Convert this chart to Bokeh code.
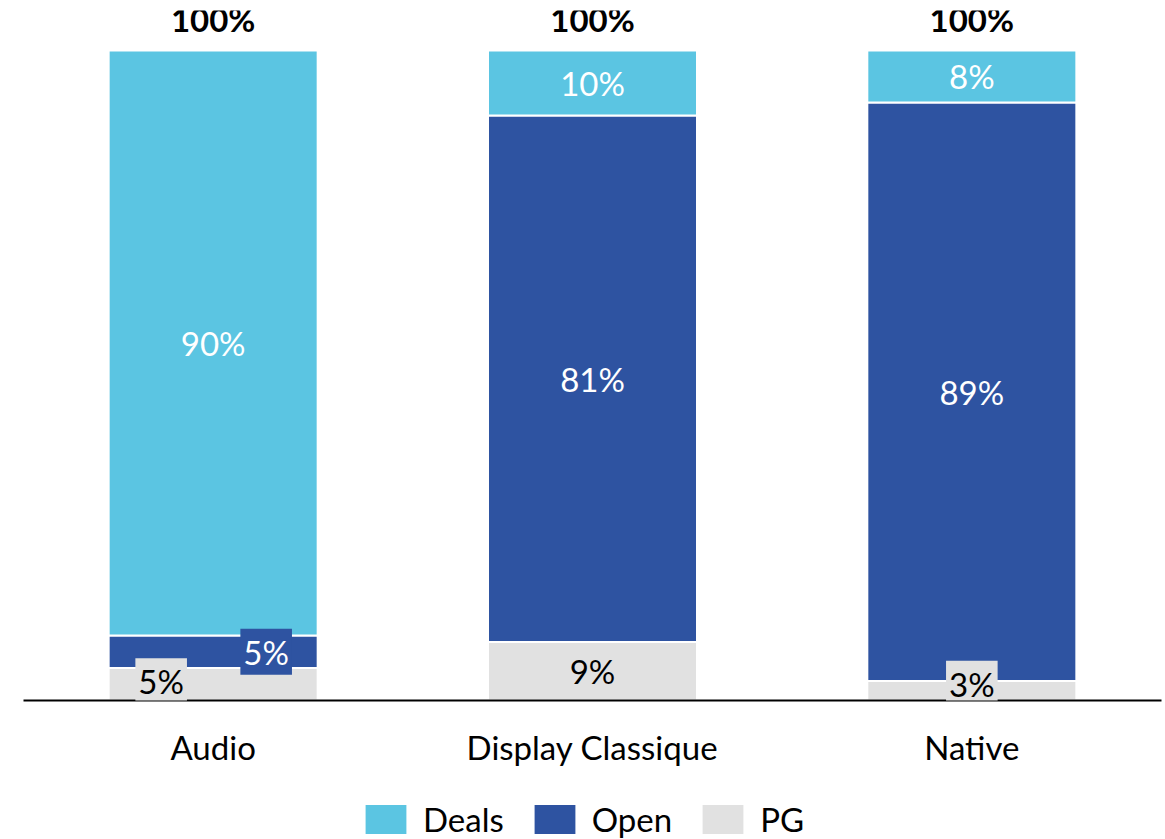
from bokeh.plotting import figure
from bokeh.layouts import column
from bokeh.models import ColumnDataSource, Range1d, LabelSet, Label, Legend, LegendItem, FixedTicker
from bokeh.core.properties import value
from bokeh.embed import file_html
from bokeh.resources import INLINE

# Share of each buying mode per format (%)
categories = ["Audio", "Display Classique", "Native"]
pg = [5, 9, 3]
open_ = [5, 81, 89]
deals = [90, 10, 8]
totals = [100, 100, 100]

series = ["PG", "Open", "Deals"]
colors = {"Deals": "#5BC5E2", "Open": "#2E53A1", "PG": "#E1E1E1"}

FONT = "Lato"
FS = "33px"
W = 1165

xpos = list(range(len(categories)))
source = ColumnDataSource(dict(x=xpos, PG=pg, Open=open_, Deals=deals))

p = figure(
    x_range=Range1d(-0.5, len(categories) - 0.5),
    y_range=Range1d(0, 106.15),
    width=W, height=770,
    output_backend="svg", toolbar_location=None,
    min_border_left=23, min_border_right=4, min_border_top=10, min_border_bottom=70,
)
p.outline_line_color = None
p.xgrid.visible = False
p.ygrid.visible = False
p.yaxis.visible = False
p.background_fill_color = "white"
p.border_fill_color = "white"

p.vbar_stack(
    series, x="x", width=0.551, source=source,
    color=[colors[s] for s in series], line_color="white", line_width=2,
)

# x axis: plain black baseline with category names
xa = p.xaxis[0]
xa.ticker = FixedTicker(ticks=xpos)
xa.major_label_overrides = {i: c for i, c in zip(xpos, categories)}
xa.axis_line_color = "black"
xa.axis_line_width = 2
xa.major_tick_line_color = None
xa.minor_tick_line_color = None
xa.major_tick_out = 0
xa.major_label_standoff = 26
xa.major_label_text_font = FONT
xa.major_label_text_font_size = FS
xa.major_label_text_color = "black"

# small segments get a boxed label, nudged so it stays readable
small_offsets = {("Audio", "PG"): (-52, 3), ("Audio", "Open"): (53, 0), ("Native", "PG"): (0, 7)}

big = dict(x=[], y=[], text=[], color=[])
small = []
for i, c in enumerate(categories):
    base = 0
    for s, vals in (("PG", pg), ("Open", open_), ("Deals", deals)):
        v = vals[i]
        mid = base + v / 2
        col = "black" if s == "PG" else "white"
        if (c, s) in small_offsets:
            dx, dy = small_offsets[(c, s)]
            small.append((i, mid, f"{v}%", col, colors[s], dx, dy))
        else:
            big["x"].append(i)
            big["y"].append(mid)
            big["text"].append(f"{v}%")
            big["color"].append(col)
        base += v

p.add_layout(LabelSet(
    x="x", y="y", text="text", source=ColumnDataSource(big),
    text_color="color", text_font=value(FONT), text_font_size=value(FS),
    text_align="center", text_baseline="middle",
))

for i, mid, txt, col, bg, dx, dy in small:
    p.add_layout(Label(
        x=i, y=mid, text=txt, x_offset=dx, y_offset=dy,
        text_color=col, text_font=FONT, text_font_size=FS,
        text_align="center", text_baseline="middle",
        background_fill_color=bg, padding=3,
    ))

# totals above each bar
p.add_layout(LabelSet(
    x="x", y="total", text="label",
    source=ColumnDataSource(dict(x=xpos, total=totals, label=[f"{t}%" for t in totals])),
    y_offset=11, text_color="black", text_font=value(FONT), text_font_size=value(FS),
    text_font_style="bold", text_align="center", text_baseline="bottom",
))

# legend strip underneath the chart; its swatch renderers have zero height
leg = figure(
    x_range=Range1d(0, 1), y_range=Range1d(0, 1),
    width=W, height=69, output_backend="svg", toolbar_location=None,
    x_axis_location=None, y_axis_location=None,
    min_border_left=23, min_border_right=4, min_border_top=0, min_border_bottom=0,
)
leg.grid.visible = False
leg.outline_line_color = None
leg.background_fill_color = "white"
leg.border_fill_color = "white"
swatch_src = ColumnDataSource(dict(x=[0.5], top=[0]))
swatches = {
    s: leg.vbar(x="x", top="top", bottom=0, width=0.1, source=swatch_src, color=colors[s], line_color=None)
    for s in ["Deals", "Open", "PG"]
}
legend = Legend(
    items=[LegendItem(label=s, renderers=[swatches[s]]) for s in ["Deals", "Open", "PG"]],
    orientation="horizontal", location=(337, 0),
    glyph_width=51, glyph_height=36, label_height=36, label_standoff=12, spacing=25,
    padding=0, margin=0, border_line_color=None, background_fill_alpha=0,
    label_text_font=FONT, label_text_font_size=FS, label_text_color="black",
)
leg.add_layout(legend, "center")

layout = column(p, leg, spacing=0)
open("out.html", "w").write(file_html(layout, INLINE))
